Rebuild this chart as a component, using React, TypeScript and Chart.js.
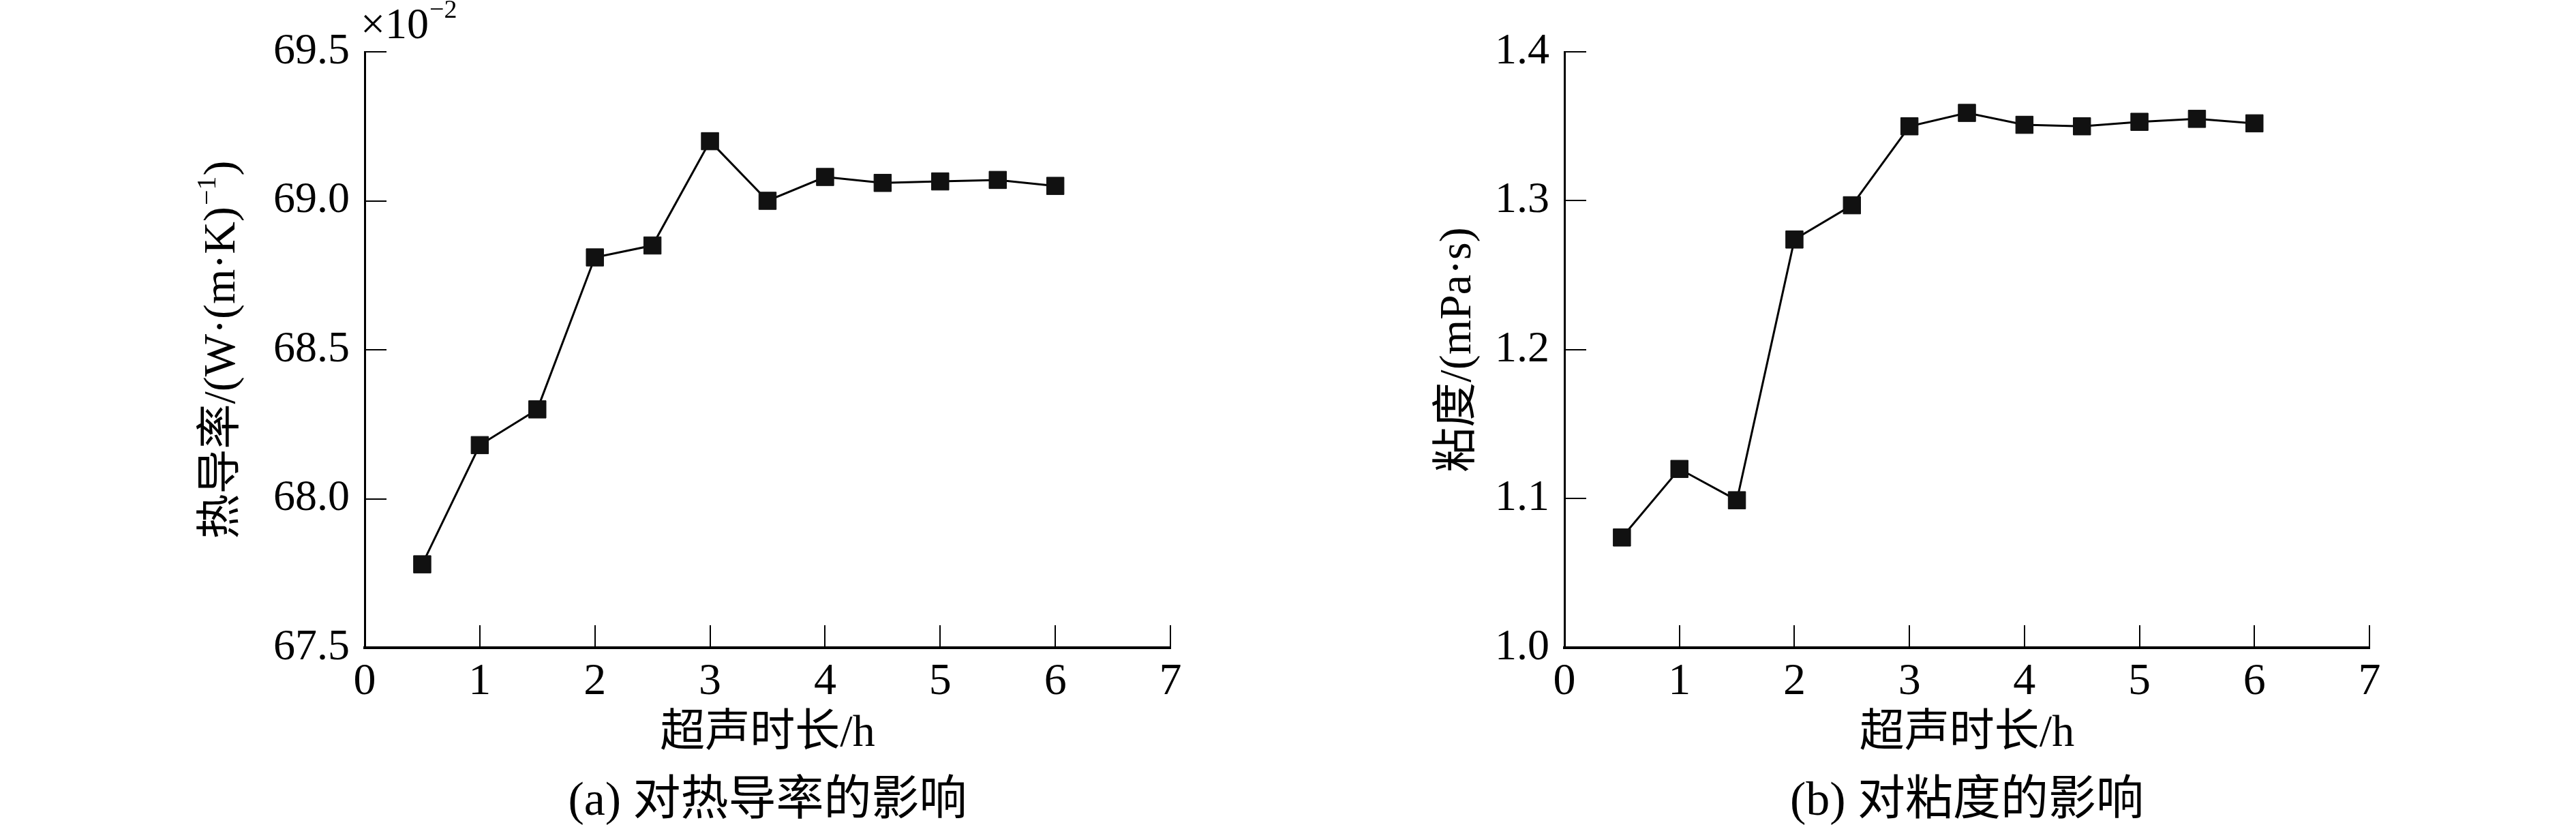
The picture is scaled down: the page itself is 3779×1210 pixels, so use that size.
import React, { useEffect, useRef } from 'react';
import { Chart, registerables } from 'chart.js';

Chart.register(...registerables);

// ---- data ----
const hours = [0.5, 1, 1.5, 2, 2.5, 3, 3.5, 4, 4.5, 5, 5.5, 6];
const conductivity = [67.78, 68.18, 68.3, 68.81, 68.85, 69.2, 69.0, 69.08, 69.06, 69.065, 69.07, 69.05];
const viscosity = [1.074, 1.12, 1.099, 1.274, 1.297, 1.35, 1.359, 1.351, 1.35, 1.353, 1.355, 1.352];
const xTicks = [0, 1, 2, 3, 4, 5, 6, 7];
const conductivityTicks = [67.5, 68.0, 68.5, 69.0, 69.5];
const viscosityTicks = [1.0, 1.1, 1.2, 1.3, 1.4];
const xTitle = '超声时长/h';
const captionA = '(a) 对热导率的影响';
const captionB = '(b) 对粘度的影响';
const yTitleA: [string, boolean][] = [['热导率/(W·(m·K)', false], ['−1', true], [')', false]];
const yTitleB: [string, boolean][] = [['粘度/(mPa·s)', false]];
const exponentA: [string, string] = ['×10', '−2'];

const FONT = '"Liberation Serif", "Noto Sans CJK SC", serif';
const W = 3779;
const H = 1210;
const HALF = 1890;

type Params = {
  values: number[];
  yTicks: number[];
  caption: string;
  yTitle: [string, boolean][];
  yTitleX: number;
  exponent?: [string, string];
  axisLeft: number;
  axisRight: number;
  canvasWidth: number;
};

function textPlugin(p: Params) {
  return {
    id: 'texts',
    afterDraw(chart: any) {
      const { ctx, chartArea } = chart;
      const cx = (chartArea.left + chartArea.right) / 2;
      ctx.save();
      ctx.fillStyle = '#000';
      ctx.textAlign = 'center';
      ctx.textBaseline = 'middle';
      ctx.font = `66px ${FONT}`;
      ctx.fillText(xTitle, cx, 1077);
      ctx.font = `70px ${FONT}`;
      ctx.fillText(p.caption, cx, 1177);

      // rotated y title with optional superscript
      ctx.save();
      ctx.translate(p.yTitleX, (chartArea.top + chartArea.bottom) / 2);
      ctx.rotate(-Math.PI / 2);
      ctx.textAlign = 'left';
      const fontFor = (sup: boolean) => (sup ? `40px ${FONT}` : `66px ${FONT}`);
      let total = 0;
      const widths = p.yTitle.map(([t, sup]) => {
        ctx.font = fontFor(sup);
        const w = ctx.measureText(t).width + (sup ? 3 : 0);
        total += w;
        return w;
      });
      let x = -total / 2;
      p.yTitle.forEach(([t, sup], i) => {
        ctx.font = fontFor(sup);
        ctx.fillText(t, x + (sup ? 2 : 0), sup ? -22 : 0);
        x += widths[i];
      });
      ctx.restore();

      if (p.exponent) {
        ctx.textAlign = 'left';
        ctx.textBaseline = 'alphabetic';
        ctx.font = `64px ${FONT}`;
        const bx = chartArea.left - 6;
        ctx.fillText(p.exponent[0], bx, 56);
        const w = ctx.measureText(p.exponent[0]).width;
        ctx.font = `38px ${FONT}`;
        ctx.fillText(p.exponent[1], bx + w + 1, 26);
      }
      ctx.restore();
    },
  };
}

function makeChart(canvas: HTMLCanvasElement, p: Params) {
  return new Chart(canvas, {
    type: 'line',
    data: {
      datasets: [
        {
          data: hours.map((h, i) => ({ x: h, y: p.values[i] })),
          borderColor: '#000',
          borderWidth: 3,
          pointStyle: 'rect',
          pointRadius: 18,
          pointHoverRadius: 18,
          pointBackgroundColor: '#111',
          pointBorderColor: '#111',
          pointBorderWidth: 1,
          fill: false,
          tension: 0,
          clip: false as any,
        },
      ],
    },
    options: {
      animation: false,
      responsive: false,
      maintainAspectRatio: false,
      devicePixelRatio: 1,
      layout: {
        autoPadding: false,
        padding: { left: 0, right: p.canvasWidth - p.axisRight, top: 76, bottom: 0 },
      },
      plugins: {
        legend: { display: false },
        tooltip: { enabled: false },
        title: { display: false },
      },
      scales: {
        x: {
          type: 'linear',
          min: 0,
          max: 7,
          afterBuildTicks: (s: any) => {
            s.ticks = xTicks.map((v) => ({ value: v }));
          },
          afterFit: (s: any) => {
            s.height = H - 950;
            s.paddingLeft = 0;
            s.paddingRight = 0;
          },
          grid: {
            drawOnChartArea: false,
            drawTicks: true,
            tickLength: -33,
            color: '#000',
            lineWidth: 2,
          },
          border: { display: true, color: '#000', width: 4 },
          ticks: {
            color: '#000',
            font: { family: FONT, size: 66 },
            padding: 44,
            maxRotation: 0,
            autoSkip: false,
            callback: (v: any) => String(v),
          },
        },
        y: {
          type: 'linear',
          min: p.yTicks[0],
          max: p.yTicks[p.yTicks.length - 1],
          afterBuildTicks: (s: any) => {
            s.ticks = p.yTicks.map((v) => ({ value: v }));
          },
          afterFit: (s: any) => {
            s.width = p.axisLeft;
            s.paddingTop = 0;
            s.paddingBottom = 0;
          },
          grid: {
            drawOnChartArea: false,
            drawTicks: true,
            tickLength: -32,
            color: '#000',
            lineWidth: 2,
          },
          border: { display: true, color: '#000', width: 3 },
          ticks: {
            color: '#000',
            font: { family: FONT, size: 64 },
            padding: 54,
            autoSkip: false,
            callback: (v: any) => Number(v).toFixed(1),
          },
        },
      },
    },
    plugins: [textPlugin(p) as any],
  });
}

export default function App() {
  const leftRef = useRef<HTMLCanvasElement>(null);
  const rightRef = useRef<HTMLCanvasElement>(null);

  useEffect(() => {
    const a = makeChart(leftRef.current!, {
      values: conductivity,
      yTicks: conductivityTicks,
      caption: captionA,
      yTitle: yTitleA,
      yTitleX: 327,
      exponent: exponentA,
      axisLeft: 535,
      axisRight: 1717,
      canvasWidth: HALF,
    });
    const b = makeChart(rightRef.current!, {
      values: viscosity,
      yTicks: viscosityTicks,
      caption: captionB,
      yTitle: yTitleB,
      yTitleX: 2140 - HALF,
      axisLeft: 2295 - HALF,
      axisRight: 3476 - HALF,
      canvasWidth: W - HALF,
    });
    return () => {
      a.destroy();
      b.destroy();
    };
  }, []);

  return (
    <div style={{ position: 'absolute', left: 0, top: 0, width: W, height: H, background: '#fff' }}>
      <canvas
        ref={leftRef}
        width={HALF}
        height={H}
        style={{ position: 'absolute', left: 0, top: 0, width: HALF, height: H }}
      />
      <canvas
        ref={rightRef}
        width={W - HALF}
        height={H}
        style={{ position: 'absolute', left: HALF, top: 0, width: W - HALF, height: H }}
      />
    </div>
  );
}
